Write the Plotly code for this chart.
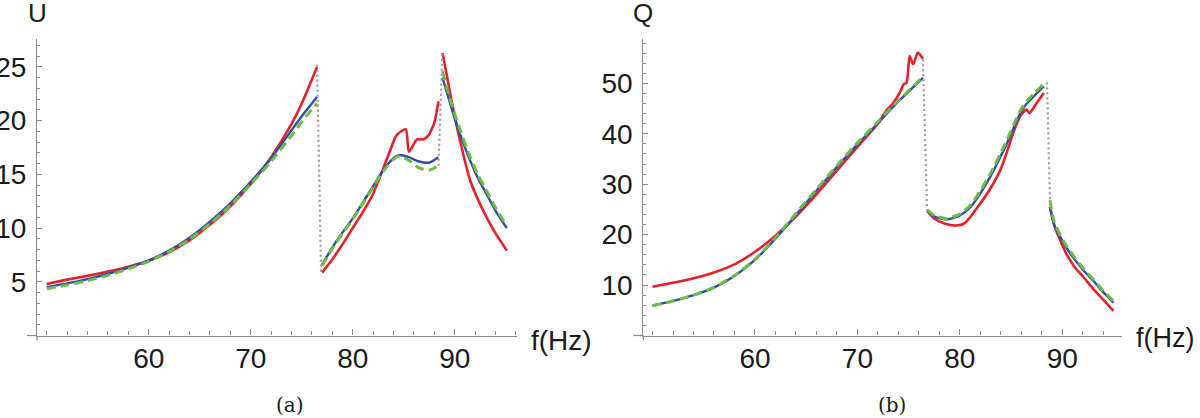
import plotly.graph_objects as go

# ---------------- Panel (a): U ----------------
u_f_b1 = [50, 52, 54, 56, 58, 60, 62, 64, 66, 68, 70, 72, 74, 75, 76.5]
u_red_b1 = [4.8, 5.2, 5.55, 5.95, 6.4, 6.95, 7.75, 8.85, 10.3, 12.0, 14.1, 16.6, 19.7, 21.6, 25.0]
u_blue_b1 = [4.5, 4.85, 5.25, 5.75, 6.3, 7.0, 7.9, 9.1, 10.6, 12.3, 14.3, 16.5, 19.1, 20.4, 22.2]
u_green_b1 = [4.35, 4.7, 5.1, 5.6, 6.2, 6.9, 7.8, 8.95, 10.4, 12.1, 14.1, 16.2, 18.6, 19.9, 21.6]

u_f_b2 = [77.0, 78, 79, 80, 81, 82, 83, 84, 84.6, 85.5, 86.5, 87.5, 88.4]
u_blue_b2 = [6.6, 8.2, 9.6, 10.9, 12.4, 13.9, 15.4, 16.5, 16.8, 16.6, 16.2, 16.1, 16.6]
u_green_b2 = [6.5, 8.1, 9.5, 10.8, 12.3, 13.8, 15.3, 16.4, 16.7, 16.3, 15.6, 15.4, 15.8]
u_red_f_b2 = [77.0, 78, 79, 80, 81, 82, 82.6, 83.5, 84.3, 85.2, 85.5, 86.3, 86.9, 87.4, 88.0, 88.4]
u_red_b2 = [5.85, 7.1, 8.5, 10.0, 11.5, 13.2, 14.6, 16.8, 18.65, 19.2, 17.1, 18.25, 18.25, 18.6, 19.8, 21.8]

u_f_b3 = [88.8, 89.3, 89.8, 90.5, 91.5, 92.3, 93.1, 94, 95.1]
u_red_b3 = [26.3, 23.8, 21.3, 18.2, 14.45, 12.6, 11.05, 9.5, 7.9]
u_blue_b3 = [24.0, 22.4, 20.8, 18.8, 16.3, 14.6, 13.2, 11.6, 10.0]
u_green_b3 = [24.6, 22.8, 21.2, 19.2, 16.6, 14.9, 13.5, 11.9, 10.2]

u_jump1_f = [76.5, 76.9]
u_jump1_v = [25.2, 5.8]
u_jump2_f = [88.4, 88.8]
u_jump2_v = [15.8, 26.5]

# ---------------- Panel (b): Q ----------------
q_f_b1 = [50, 52, 54, 56, 58, 60, 62, 64, 66, 68, 70, 72, 74, 76.4]
q_blue_b1 = [5.9, 6.85, 8.0, 9.5, 11.8, 15.0, 19.2, 23.9, 28.7, 33.4, 37.9, 42.1, 46.4, 51.1]
q_green_b1 = [5.9, 6.85, 8.0, 9.55, 11.9, 15.1, 19.4, 24.2, 29.0, 33.7, 38.2, 42.4, 46.6, 51.3]
q_red_f_b1 = [50, 52, 54, 56, 58, 60, 62, 64, 66, 68, 70, 72, 72.9, 73.5, 74.2, 74.5, 74.8, 75.1, 75.45, 75.9, 76.4]
q_red_b1 = [9.66, 10.45, 11.35, 12.5, 14.1, 16.6, 19.8, 23.6, 28.0, 32.7, 37.4, 42.0, 44.8, 46.1, 48.4, 49.8, 50.1, 55.4, 53.8, 56.1, 54.9]

q_f_b2 = [76.8, 77.5, 78.7, 80, 81, 82, 83, 84, 84.6, 85.3, 85.9, 86.5, 87.3, 88.2]
q_blue_b2 = [24.7, 23.6, 23.0, 23.8, 25.4, 28.2, 31.6, 35.6, 38.1, 41.4, 44.1, 45.9, 47.6, 49.4]
q_green_b2 = [24.9, 23.8, 23.2, 24.1, 25.8, 28.7, 32.2, 36.2, 38.8, 42.0, 44.6, 46.4, 48.1, 49.9]
q_red_f_b2 = [76.8, 77.5, 78.5, 79.6, 80.5, 82, 83, 83.95, 84.6, 85.2, 85.9, 86.5, 86.8, 87.5, 88.2]
q_red_b2 = [24.7, 23.2, 22.2, 21.8, 22.3, 26.2, 29.2, 32.8, 36.4, 40.1, 43.5, 44.8, 44.1, 46.1, 48.1]

q_f_b3 = [88.8, 89.2, 89.8, 90.4, 91.2, 92.1, 93, 94, 95.0]
q_blue_b3 = [25.5, 22.0, 19.5, 17.4, 15.1, 12.85, 10.9, 8.6, 6.5]
q_green_b3 = [26.8, 22.6, 19.9, 17.8, 15.5, 13.2, 11.2, 8.9, 6.8]
q_red_f_b3 = [88.8, 89.2, 89.5, 90.4, 91.2, 92.1, 93, 94, 95.0]
q_red_b3 = [25.5, 22.0, 20.3, 16.2, 13.6, 11.5, 9.3, 7.1, 4.9]

q_jump1_f = [76.4, 76.8]
q_jump1_v = [54.8, 24.8]
q_jump2_f = [88.5, 88.8]
q_jump2_v = [50.2, 26.8]

x_ticks = [60, 70, 80, 90]
u_ticks = [5, 10, 15, 20, 25]
q_ticks = [10, 20, 30, 40, 50]

RED = "#e8202a"
BLUE = "#2f4fa6"
GREEN = "#6bbd48"
GRAY = "#a89494"
AXC = "#8a8a8a"
FONT = "Liberation Sans"

fig = go.Figure()


def add_branch(f, v, color, xa, ya, dash="solid", width=2.5, shape="spline"):
    fig.add_trace(go.Scatter(x=f, y=v, mode="lines", xaxis=xa, yaxis=ya,
                             line=dict(color=color, width=width, dash=dash,
                                       shape=shape, smoothing=0.6),
                             showlegend=False, hoverinfo="skip"))


# panel a
for fr, vr, fb, vb, vg in [
    (u_f_b1, u_red_b1, u_f_b1, u_blue_b1, u_green_b1),
    (u_red_f_b2, u_red_b2, u_f_b2, u_blue_b2, u_green_b2),
    (u_f_b3, u_red_b3, u_f_b3, u_blue_b3, u_green_b3),
]:
    add_branch(fr, vr, RED, "x", "y", width=2.6)
    add_branch(fb, vb, BLUE, "x", "y", width=2.4)
    add_branch(fb, vg, GREEN, "x", "y", dash="9px,5px", width=3)
for jf, jv in [(u_jump1_f, u_jump1_v), (u_jump2_f, u_jump2_v)]:
    add_branch(jf, jv, GRAY, "x", "y", dash="2px,3px", width=2.2, shape="linear")

# panel b
for fr, vr, fb, vb, vg in [
    (q_red_f_b1, q_red_b1, q_f_b1, q_blue_b1, q_green_b1),
    (q_red_f_b2, q_red_b2, q_f_b2, q_blue_b2, q_green_b2),
    (q_red_f_b3, q_red_b3, q_f_b3, q_blue_b3, q_green_b3),
]:
    add_branch(fr, vr, RED, "x2", "y2", width=2.6)
    add_branch(fb, vb, BLUE, "x2", "y2", width=2.4)
    add_branch(fb, vg, GREEN, "x2", "y2", dash="9px,5px", width=3)
for jf, jv in [(q_jump1_f, q_jump1_v), (q_jump2_f, q_jump2_v)]:
    add_branch(jf, jv, GRAY, "x2", "y2", dash="2px,3px", width=2.2, shape="linear")

ydom = [(418 - 335.5) / 418, (418 - 39) / 418]


def xax(domain, rng, anchor):
    return dict(domain=domain, range=rng, anchor=anchor, showgrid=False, zeroline=False,
                automargin=False,
                showline=True, linecolor=AXC, linewidth=1.2,
                tickmode="array", tickvals=x_ticks, ticks="inside", ticklen=6,
                tickcolor=AXC, tickwidth=1.2, ticklabelstandoff=-2,
                tickfont=dict(family=FONT, size=28, color="#1a1a1a"),
                minor=dict(dtick=2, tick0=50, ticks="inside", ticklen=4,
                           tickcolor=AXC, tickwidth=1))


def yax(rng, anchor, ticks, mdt):
    return dict(domain=ydom, range=rng, anchor=anchor, showgrid=False, zeroline=False,
                automargin=False,
                showline=True, linecolor=AXC, linewidth=1.2,
                tickmode="array", tickvals=ticks, ticks="inside", ticklen=5,
                tickcolor=AXC, tickwidth=1.2, ticklabelstandoff=4,
                tickfont=dict(family=FONT, size=28, color="#1a1a1a"),
                minor=dict(dtick=mdt, tick0=0, ticks="inside", ticklen=3,
                           tickcolor=AXC, tickwidth=1))


fig.update_layout(
    width=1200, height=418,
    margin=dict(l=0, r=0, t=0, b=0, autoexpand=False),
    paper_bgcolor="white", plot_bgcolor="white",
    xaxis=xax([37 / 1200, 517 / 1200], [49.05, 96.1], "y"),
    yaxis=yax([0, 27.6], "x", u_ticks, 1),
    xaxis2=xax([643.3 / 1200, 1121.7 / 1200], [49.1, 95.8], "y2"),
    yaxis2=yax([0, 58.8], "x2", q_ticks, 2),
)

# axis overhangs (Mathematica-style crossing axes)
for xr, yr, wpx, hpx in [("x domain", "y domain", 480, 296.5), ("x2 domain", "y2 domain", 478.4, 296.5)]:
    fig.add_shape(type="line", xref=xr, yref=yr, x0=-10 / wpx, x1=0, y0=0, y1=0,
                  line=dict(color=AXC, width=1.2))
    fig.add_shape(type="line", xref=xr, yref=yr, x0=0, x1=0, y0=-5 / hpx, y1=0,
                  line=dict(color=AXC, width=1.2))

annos = [
    dict(text="U", x=37 / 1200, y=1 - 13 / 418, xanchor="center", yanchor="middle", size=26, fam=FONT),
    dict(text="Q", x=643 / 1200, y=1 - 13 / 418, xanchor="center", yanchor="middle", size=26, fam=FONT),
    dict(text="f(Hz)", x=529 / 1200, y=1 - 340 / 418, xanchor="left", yanchor="middle", size=28, fam=FONT),
    dict(text="f(Hz)", x=1134 / 1200, y=1 - 338 / 418, xanchor="left", yanchor="middle", size=27, fam=FONT),
    dict(text="(a)", x=290 / 1200, y=1 - 405 / 418, xanchor="center", yanchor="middle", size=20, fam="DejaVu Serif"),
    dict(text="(b)", x=892 / 1200, y=1 - 405 / 418, xanchor="center", yanchor="middle", size=20, fam="DejaVu Serif"),
]
for a in annos:
    fig.add_annotation(text=a["text"], x=a["x"], y=a["y"], xref="paper", yref="paper",
                       xanchor=a["xanchor"], yanchor=a["yanchor"], showarrow=False,
                       font=dict(family=a["fam"], size=a["size"], color="#1a1a1a"))

fig.write_html("out.html", config={"displayModeBar": False},
               post_script="document.body.style.margin='0';document.body.style.padding='0';document.body.style.overflow='hidden';")
